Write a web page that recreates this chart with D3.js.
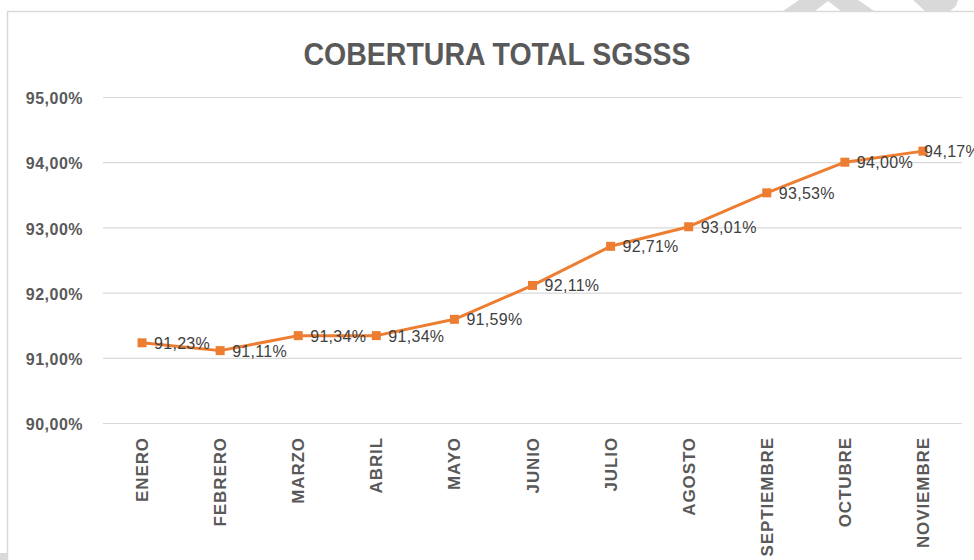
<!DOCTYPE html>
<html lang="es">
  <head>
    <meta charset="UTF-8" />
    <title>Cobertura total SGSSS</title>
    <script src="https://d3js.org/d3.v7.min.js"></script>
    <style>
      body { margin: 0; background: #fff; }
      text { font-family: 'Liberation Sans', Arial, sans-serif; }
    </style>
  </head>
  <body>
    <svg width="974" height="560"></svg>
    <script>
      var months = ['ENERO', 'FEBRERO', 'MARZO', 'ABRIL', 'MAYO', 'JUNIO', 'JULIO',
        'AGOSTO', 'SEPTIEMBRE', 'OCTUBRE', 'NOVIEMBRE']
      var cobertura = [91.23, 91.11, 91.34, 91.34, 91.59, 92.11, 92.71, 93.01, 93.53, 94.00, 94.17]
      var yTicks = [90, 91, 92, 93, 94, 95]

      var svg = d3.select('svg')
      var width = +svg.attr('width')
      var fmt = function(v) { return v.toFixed(2).replace('.', ',') + '%' }

      // marca de agua (esquina superior derecha)
      svg.append('path')
        .attr('d', 'M783,11 L799,0 L858,0 L874,11 L841,11 L828,1 L815,11 Z M913,0 L958,0 L956,6 L950,11 L925,11 Z M0,553 L7,553 L7,560 L0,560 Z')
        .attr('fill', '#d9d9d9')

      // borde del gráfico
      svg.append('rect')
        .attr('x', 7.5).attr('y', 11.5)
        .attr('width', 1000).attr('height', 600)
        .attr('fill', 'none')
        .attr('stroke', '#d9d9d9')
        .attr('stroke-width', 1.5)

      var x = d3.scaleBand().domain(months).range([103, 962])
      var y = d3.scaleLinear().domain([90, 95]).range([423, 97])

      // título
      svg.append('text')
        .attr('x', 497).attr('y', 65)
        .attr('text-anchor', 'middle')
        .attr('font-size', 32)
        .attr('font-weight', 'bold')
        .attr('fill', '#595959')
        .attr('textLength', 387)
        .attr('lengthAdjust', 'spacingAndGlyphs')
        .text('COBERTURA TOTAL SGSSS')

      // eje y y cuadrícula
      var yAxis = svg.append('g')
        .attr('transform', 'translate(103,0)')
        .call(d3.axisLeft(y).tickValues(yTicks).tickFormat(fmt).tickSize(-859).tickPadding(20))
      yAxis.select('.domain').remove()
      yAxis.selectAll('line').attr('stroke', '#d9d9d9').attr('stroke-width', 1.2)
      yAxis.selectAll('text')
        .attr('fill', '#595959')
        .attr('font-size', 16)
        .attr('font-weight', 'bold')
        .attr('letter-spacing', 0.5)
        .attr('dy', '0.42em')
        .attr('font-family', "'Liberation Sans', Arial, sans-serif")

      // eje x
      var xAxis = svg.append('g')
        .attr('transform', 'translate(0,423)')
        .call(d3.axisBottom(x).tickSize(0))
      xAxis.select('.domain').remove()
      xAxis.selectAll('text')
        .attr('fill', '#595959')
        .attr('font-size', 17)
        .attr('font-weight', 'bold')
        .attr('letter-spacing', 0.9)
        .attr('font-family', "'Liberation Sans', Arial, sans-serif")
        .attr('text-anchor', 'end')
        .attr('transform', 'translate(6,14) rotate(-90)')
        .attr('x', 0).attr('y', 0).attr('dy', 0)

      var cx = function(d, i) { return x(months[i]) + x.bandwidth() / 2 }

      // línea
      var line = d3.line()
        .x(cx)
        .y(function(d) { return y(d) })
      svg.append('path')
        .datum(cobertura)
        .attr('d', line)
        .attr('fill', 'none')
        .attr('stroke', '#ed7d31')
        .attr('stroke-width', 3)
        .attr('stroke-linejoin', 'round')

      // marcadores
      svg.selectAll('.marker')
        .data(cobertura)
        .enter()
        .append('rect')
        .attr('class', 'marker')
        .attr('x', function(d, i) { return cx(d, i) - 4.5 })
        .attr('y', function(d) { return y(d) - 4.5 })
        .attr('width', 9).attr('height', 9)
        .attr('fill', '#ed7d31')

      // etiquetas de datos
      svg.selectAll('.label')
        .data(cobertura)
        .enter()
        .append('text')
        .attr('class', 'label')
        .attr('x', function(d, i) { return Math.min(cx(d, i) + 12, width - 50) })
        .attr('y', function(d) { return y(d) + 6 })
        .attr('font-size', 16)
        .attr('letter-spacing', 0.3)
        .attr('fill', '#404040')
        .text(fmt)
    </script>
  </body>
</html>
